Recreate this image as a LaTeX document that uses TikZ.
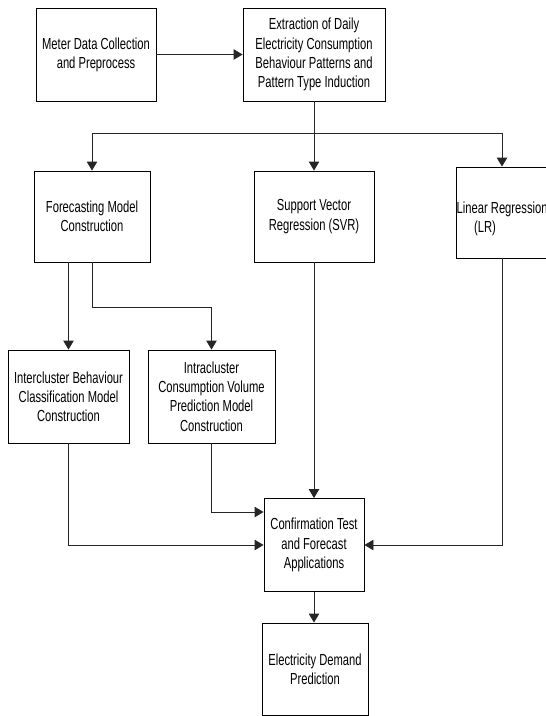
\documentclass[tikz,border=0pt]{standalone}
\usepackage{fontspec}
\setmainfont[FakeStretch=0.70]{Liberation Sans}
\usetikzlibrary{arrows.meta}
\begin{document}
\begin{tikzpicture}[x=1pt,y=-1pt]
\tikzset{
  box/.style={draw, line width=0.9pt, inner sep=0pt, align=center, font=\fontsize{16}{19.2}\selectfont},
  txt/.style={inner sep=0pt, font=\fontsize{16}{19.2}\selectfont},
  conn/.style={line width=0.9pt, draw=black!85},
  arr/.style={conn, -{Triangle[length=9pt,width=10.5pt]}},
}
\useasboundingbox (0,0) rectangle (546,716);
\node[box, minimum width=120pt, minimum height=93pt] (m1) at (96,54.5) {Meter Data Collection\\and Preprocess};
\node[box, minimum width=142pt, minimum height=93pt] (m2) at (314,54.5) {Extraction of Daily\\Electricity Consumption\\Behaviour Patterns and\\Pattern Type Induction};
\node[box, minimum width=116pt, minimum height=91pt] (f) at (92,216.5) {Forecasting Model\\Construction};
\node[box, minimum width=120pt, minimum height=91pt] (svr) at (314,216.5) {Support Vector\\Regression (SVR)};
\node[box, minimum width=92pt, minimum height=91pt] (lr) at (502,212.5) {};
\node[txt, anchor=base west] (lrt1) at (456.5,213.5) {Linear Regression};
\node[txt, anchor=base] (lrt2) at (485,232.5) {(LR)};
\node[box, minimum width=121pt, minimum height=93pt] (i1) at (68.5,396.5) {Intercluster Behaviour\\Classification Model\\Construction};
\node[box, minimum width=127pt, minimum height=93pt] (i2) at (211.5,396.5) {Intracluster\\Consumption Volume\\Prediction Model\\Construction};
\node[box, minimum width=100pt, minimum height=93pt] (c) at (314,545) {Confirmation Test\\and Forecast\\Applications};
\node[box, minimum width=106pt, minimum height=92pt] (e) at (315,669) {Electricity Demand\\Prediction};
\coordinate (j) at (314,133);
\draw[arr] (m1) -- (m2);
\draw[conn] (m2.south) -- (j);
\draw[arr] (j) -| (f.north);
\draw[arr] (j) -- (svr.north);
\draw[arr] (j) -| (lr.north);
\draw[arr] (f.south -| i1.north) -- (i1.north);
\draw[arr] (f.south) -- ++(0,45) -| (i2.north);
\draw[arr] (svr.south) -- (c.north);
\draw[arr] (i1.south) |- (c.west);
\draw[arr] (i2.south) |- (c.west |- 0,512);
\draw[arr] (lr.south) |- (c.east);
\draw[arr] (c.south) -- (c.south |- e.north);
\end{tikzpicture}
\end{document}
